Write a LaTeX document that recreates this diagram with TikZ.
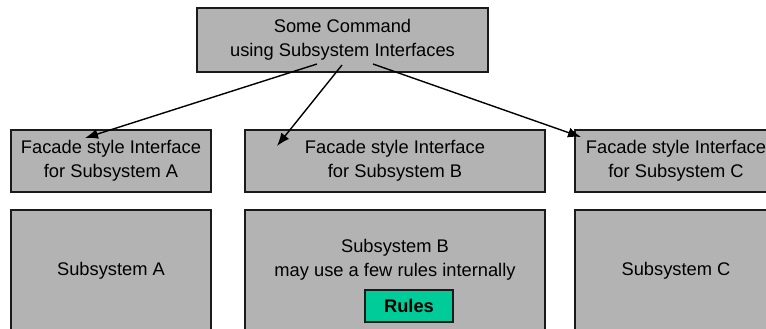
\documentclass[tikz,border=0pt]{standalone}
\usepackage{fontspec}
\setmainfont{Liberation Sans}
\usetikzlibrary{arrows.meta}
\definecolor{boxgray}{RGB}{179,179,179}
\definecolor{edgegray}{RGB}{26,26,26}
\definecolor{rulesteal}{RGB}{0,204,153}
\tikzset{
  panel/.style={draw=edgegray, line width=1.6pt, fill=boxgray, inner sep=0pt,
    align=center, font=\fontsize{18.3}{23.5}\selectfont},
  caption/.style={inner sep=0pt, align=center, font=\fontsize{18.3}{23.5}\selectfont},
  callarrow/.style={draw=black, line width=1.4pt, -{Latex[length=13pt,width=10pt]}},
}
\begin{document}
\begin{tikzpicture}[x=1pt, y=-1pt]
  \useasboundingbox (0,0) rectangle (766,329);
  \clip (0,0) rectangle (766,329);
  \fill[white] (0,0) rectangle (766,329);

  % client command
  \node[panel, minimum width=291pt, minimum height=64pt] (cmd) at (342.5,40)
    {Some Command\\using Subsystem Interfaces};

  % facade interfaces
  \node[panel, minimum width=200pt, minimum height=62pt] (fa) at (111,161)
    {Facade style Interface\\for Subsystem A};
  \node[panel, minimum width=300pt, minimum height=62pt] (fb) at (395,161)
    {Facade style Interface\\for Subsystem B};
  \node[panel, minimum width=202pt, minimum height=62pt] (fc) at (676,161)
    {Facade style Interface\\for Subsystem C};

  % subsystems
  \node[panel, minimum width=200pt, minimum height=122pt] (sa) at (111,271) {Subsystem A};
  \node[panel, minimum width=300pt, minimum height=122pt] (sb) at (395,271) {};
  \node[caption] (sbtext) at (395,260) {Subsystem B\\may use a few rules internally};
  \node[panel, minimum width=202pt, minimum height=122pt] (sc) at (676,271) {Subsystem C};

  % rules inside subsystem B
  \node[draw=edgegray, line width=1.6pt, fill=rulesteal, inner sep=0pt,
        minimum width=88pt, minimum height=32pt,
        font=\fontsize{18.3}{22}\selectfont\bfseries] (rules) at (409,306) {Rules};

  % calls from the command to the facades
  \coordinate (s1) at (317,64);
  \coordinate (s2) at (342,65);
  \coordinate (s3) at (373,64);
  \coordinate (t1) at (85,138);
  \coordinate (t2) at (277,146);
  \coordinate (t3) at (581,137);
  \draw[callarrow] (s1) -- (t1);
  \draw[callarrow] (s2) -- (t2);
  \draw[callarrow] (s3) -- (t3);
\end{tikzpicture}
\end{document}
